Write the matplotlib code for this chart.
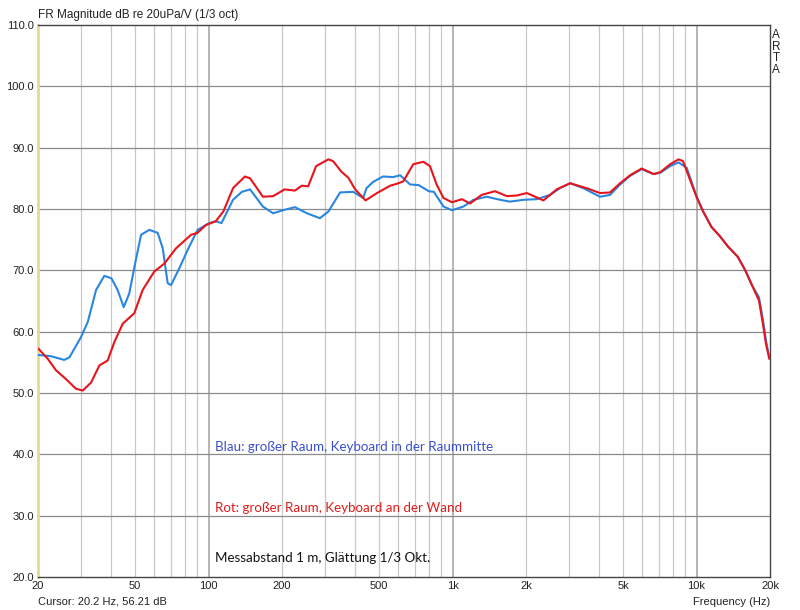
import matplotlib
matplotlib.use("Agg")
import matplotlib.pyplot as plt
from matplotlib.ticker import FixedLocator, NullFormatter, NullLocator

# ---- data ----
blue_freq = [20.1, 22.6, 25.6, 26.9, 30, 32, 34.6, 37.4, 40, 42.4, 44.9, 47.3, 50, 52.9,
             57.2, 61.9, 64.9, 68, 70.2, 75.8, 83.4, 90.2, 100.8, 107, 113, 126, 137, 148,
             167, 184, 202, 226, 253, 286, 310, 346, 392, 430, 444, 472, 518, 571, 610, 670,
             726, 799, 838, 918, 994, 1108, 1218, 1380, 1566, 1720, 1952, 2216, 2510, 2758,
             3032, 3434, 4020, 4420, 4860, 5340, 5960, 6660, 7100, 7800, 8440, 9120, 9990,
             10640, 11500, 12440, 13440, 14760, 15840, 16860, 18020, 18700, 19260, 19860]
blue_db = [56.2, 56.0, 55.4, 55.8, 59.1, 61.6, 66.8, 69.1, 68.7, 66.8, 64.0, 66.2, 71.1, 75.8,
           76.6, 76.1, 73.6, 67.9, 67.6, 70.3, 73.9, 76.6, 77.7, 78.0, 77.7, 81.5, 82.8, 83.2,
           80.4, 79.3, 79.8, 80.3, 79.3, 78.5, 79.6, 82.7, 82.8, 81.8, 83.4, 84.4, 85.3, 85.2,
           85.5, 84.0, 83.9, 82.9, 82.8, 80.4, 79.8, 80.4, 81.5, 82.0, 81.5, 81.2, 81.5, 81.6,
           82.3, 83.4, 84.2, 83.4, 82.0, 82.3, 84.0, 85.4, 86.5, 85.7, 85.9, 87.0, 87.6, 86.7,
           82.1, 79.6, 77.1, 75.6, 73.9, 72.2, 70.0, 67.6, 65.6, 62.0, 58.5, 55.8]

red_freq = [20.1, 21.9, 23.7, 26.0, 28.6, 30.5, 33, 35.7, 38.6, 41.1, 44.5, 49.6, 53.7, 59.9,
            65.9, 73.6, 84.8, 90, 97.6, 107, 115, 126, 141, 148, 167, 184, 205, 226, 241, 256,
            276, 310, 324, 350, 374, 399, 440, 490, 555, 590, 628, 690, 759, 808, 860, 918,
            994, 1092, 1180, 1316, 1492, 1668, 1834, 2016, 2358, 2672, 3032, 3540, 4020, 4420,
            4860, 5340, 5960, 6660, 7100, 7800, 8440, 8800, 9990, 10640, 11500, 12440, 13440,
            14760, 15840, 16860, 18020, 18700, 19260, 19860]
red_db = [57.2, 55.6, 53.7, 52.3, 50.7, 50.4, 51.7, 54.5, 55.3, 58.3, 61.3, 63.0, 66.8, 69.8,
          71.1, 73.6, 75.8, 76.1, 77.4, 78.0, 79.6, 83.4, 85.3, 85.0, 82.0, 82.1, 83.2, 83.0,
          83.8, 83.7, 87.0, 88.1, 87.8, 86.1, 85.1, 83.2, 81.4, 82.6, 83.8, 84.1, 84.5, 87.3,
          87.7, 87.0, 84.0, 81.8, 81.1, 81.6, 80.9, 82.3, 82.9, 82.1, 82.2, 82.6, 81.4, 83.2,
          84.2, 83.4, 82.6, 82.7, 84.2, 85.5, 86.6, 85.7, 86.0, 87.3, 88.1, 87.8, 82.0, 79.6,
          77.1, 75.6, 73.9, 72.2, 70.0, 67.6, 65.1, 61.3, 58.0, 55.6]

x_ticks = [20, 50, 100, 200, 500, 1000, 2000, 5000, 10000, 20000]
x_tick_labels = ["20", "50", "100", "200", "500", "1k", "2k", "5k", "10k", "20k"]
y_ticks = [20, 30, 40, 50, 60, 70, 80, 90, 100, 110]
y_tick_labels = ["%.1f" % v for v in y_ticks]
minor_freqs = [30, 40, 60, 70, 80, 90, 300, 400, 600, 700, 800, 900,
               3000, 4000, 6000, 7000, 8000, 9000]
major_freqs = [100, 1000, 10000]
mid_freqs = [50, 200, 500, 2000, 5000]

title_text = "FR Magnitude dB re 20uPa/V (1/3 oct)"
note_blue = "Blau: großer Raum, Keyboard in der Raummitte"
note_red = "Rot: großer Raum, Keyboard an der Wand"
note_black = "Messabstand 1 m, Glättung 1/3 Okt."
cursor_text = "Cursor: 20.2 Hz, 56.21 dB"
xlabel_text = "Frequency (Hz)"

# ---- figure ----
fig = plt.figure(figsize=(8.0, 6.1), dpi=100)
ax = fig.add_axes([38 / 800, 1 - 577 / 610, (770 - 38) / 800, (577 - 25) / 610])
ax.set_xscale("log")
ax.set_xlim(20, 20000)
ax.set_ylim(20, 110)

# grid
for f in minor_freqs + mid_freqs:
    ax.axvline(f, color="#c8c8c8", lw=0.9, zorder=1)
for f in major_freqs:
    ax.axvline(f, color="#a8a8a8", lw=1.2, zorder=1)
for v in y_ticks[1:-1]:
    ax.axhline(v, color="#8a8a8a", lw=0.9, zorder=1)

ax.plot(blue_freq, blue_db, color="#2a86e0", lw=1.5, zorder=3)
ax.plot(red_freq, red_db, color="#e8141c", lw=1.5, zorder=4)

ax.xaxis.set_major_locator(FixedLocator(x_ticks))
ax.xaxis.set_minor_locator(NullLocator())
ax.xaxis.set_minor_formatter(NullFormatter())
ax.set_xticklabels(x_tick_labels)
ax.set_yticks(y_ticks)
ax.set_yticklabels(y_tick_labels)
ax.tick_params(length=0, labelsize=8, colors="#222222", pad=3)
for lab in ax.get_xticklabels() + ax.get_yticklabels():
    lab.set_fontfamily(["Liberation Sans Narrow", "Liberation Sans", "DejaVu Sans"])
for lab in ax.get_yticklabels():
    lab.set_fontfamily(["Liberation Sans", "DejaVu Sans"])
    lab.set_fontsize(8)

for side in ["top", "right", "bottom"]:
    ax.spines[side].set_color("#444444")
    ax.spines[side].set_linewidth(1.0)
ax.spines["left"].set_color("#e2da96")
ax.spines["left"].set_linewidth(2.0)

# notes
note_font = ["Lato", "DejaVu Sans"]
ax.text(106, 41.2, note_blue, color="#3a4fcf", fontsize=9.6, family=note_font, va="center", ha="left", zorder=5)
ax.text(106, 31.2, note_red, color="#e31b1b", fontsize=9.6, family=note_font, va="center", ha="left", zorder=5)
ax.text(106, 23.1, note_black, color="#111111", fontsize=9.6, family=note_font, va="center", ha="left", zorder=5)

# outer texts
sans = ["Liberation Sans", "DejaVu Sans"]
narrow = ["Liberation Sans Narrow", "Liberation Sans", "DejaVu Sans"]
fig.text(38 / 800, 1 - 15 / 610, title_text, fontsize=8.5, family=sans, va="center", ha="left", color="#222222")
fig.text(38 / 800, 1 - 602 / 610, cursor_text, fontsize=8, family=narrow, va="center", ha="left", color="#222222")
fig.text(770 / 800, 1 - 602 / 610, xlabel_text, fontsize=8, family=narrow, va="center", ha="right", color="#222222")
fig.text(776 / 800, 1 - 29 / 610, "A\nR\nT\nA", fontsize=8.5, family=sans, va="top", ha="center",
         color="#222222", linespacing=0.95)

fig.savefig("out.png", dpi=100)
